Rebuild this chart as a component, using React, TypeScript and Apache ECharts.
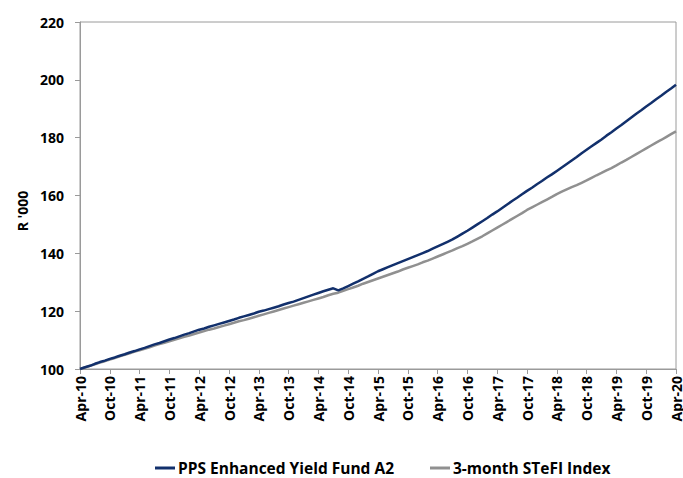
import React, { useEffect, useRef } from "react";
import * as echarts from "echarts";

const MONTHS = ["Jan", "Feb", "Mar", "Apr", "May", "Jun", "Jul", "Aug", "Sep", "Oct", "Nov", "Dec"];
const START_YEAR = 2010;
const START_MONTH = 3; // April
const COUNT = 121;
const categories: string[] = [];
for (let i = 0; i < COUNT; i++) {
  const m = (START_MONTH + i) % 12;
  const y = START_YEAR + Math.floor((START_MONTH + i) / 12);
  categories.push(MONTHS[m] + "-" + String(y % 100).padStart(2, "0"));
}

const fundName = "PPS Enhanced Yield Fund A2";
const indexName = "3-month STeFI Index";

const fundValues = [
  100.0, 100.6, 101.1, 101.8, 102.4, 102.9, 103.5, 104.0, 104.6, 105.1, 105.7, 106.2,
  106.8, 107.3, 107.9, 108.5, 109.0, 109.6, 110.2, 110.7, 111.3, 111.9, 112.4, 113.0,
  113.6, 114.0, 114.6, 115.1, 115.6, 116.1, 116.6, 117.1, 117.7, 118.2, 118.7, 119.2,
  119.8, 120.2, 120.7, 121.2, 121.7, 122.3, 122.8, 123.3, 123.9, 124.5, 125.1, 125.7,
  126.3, 126.9, 127.4, 127.9, 127.2, 127.9, 128.7, 129.5, 130.3, 131.2, 132.0, 132.9,
  133.8, 134.5, 135.2, 135.9, 136.6, 137.3, 138.0, 138.7, 139.4, 140.1, 140.8, 141.6,
  142.4, 143.2, 144.0, 144.8, 145.8, 146.8, 147.8, 148.9, 150.0, 151.1, 152.2, 153.4,
  154.5, 155.7, 156.9, 158.1, 159.2, 160.4, 161.6, 162.7, 163.9, 165.0, 166.2, 167.3,
  168.5, 169.7, 170.9, 172.1, 173.3, 174.6, 175.8, 177.0, 178.2, 179.4, 180.7, 181.9,
  183.2, 184.4, 185.7, 187.0, 188.3, 189.5, 190.8, 192.0, 193.3, 194.5, 195.8, 197.0,
  198.3,
];

const indexValues = [
  100.0, 100.5, 101.1, 101.6, 102.2, 102.7, 103.3, 103.8, 104.4, 104.9, 105.4, 106.0,
  106.5, 107.0, 107.5, 108.1, 108.6, 109.1, 109.6, 110.1, 110.6, 111.1, 111.6, 112.1,
  112.6, 113.1, 113.6, 114.0, 114.5, 115.0, 115.5, 116.0, 116.5, 116.9, 117.4, 117.9,
  118.4, 118.9, 119.4, 119.9, 120.4, 120.9, 121.4, 121.9, 122.4, 122.9, 123.4, 123.9,
  124.4, 124.9, 125.5, 126.0, 126.4, 127.0, 127.6, 128.2, 128.8, 129.5, 130.1, 130.7,
  131.3, 131.9, 132.5, 133.1, 133.7, 134.4, 135.0, 135.6, 136.2, 136.9, 137.5, 138.2,
  138.9, 139.6, 140.3, 141.0, 141.8, 142.5, 143.3, 144.1, 145.0, 145.9, 146.9, 147.9,
  148.9, 149.9, 150.9, 151.9, 152.9, 153.9, 155.0, 155.9, 156.8, 157.7, 158.6, 159.5,
  160.5, 161.3, 162.1, 162.9, 163.6, 164.4, 165.2, 166.1, 167.0, 167.8, 168.7, 169.5,
  170.4, 171.4, 172.3, 173.3, 174.3, 175.3, 176.3, 177.3, 178.3, 179.2, 180.2, 181.2,
  182.2,
];

const yMin = 100;
const yMax = 220;
const yStep = 20;

const FONT = "'Open Sans', 'Noto Sans', sans-serif";

export default function App() {
  const ref = useRef<HTMLDivElement>(null);
  useEffect(() => {
    if (!ref.current) return;
    const chart = echarts.init(ref.current, null, { renderer: "svg" });
    chart.setOption({
      animation: false,
      backgroundColor: "#ffffff",
      grid: {
        left: 80,
        right: 6,
        top: 22,
        bottom: 109,
        show: true,
        borderColor: "#9a9a9a",
        borderWidth: 1,
      },
      legend: {
        top: 455,
        left: 150,
        itemWidth: 20,
        itemHeight: 3,
        itemGap: 36,
        icon: "rect",
        textStyle: { fontFamily: FONT, fontSize: 15.5, fontWeight: "bold", color: "#000", padding: [0, 0, 0, -2] },
        data: [fundName, indexName],
      },
      graphic: [
        {
          type: "text",
          x: 22,
          y: 211,
          rotation: Math.PI / 2,
          style: {
            text: "R '000",
            fontFamily: FONT,
            fontSize: 14,
            fontWeight: "bold",
            fill: "#000",
            textAlign: "center",
            textVerticalAlign: "middle",
          },
        },
      ],
      xAxis: {
        type: "category",
        data: categories,
        boundaryGap: false,
        axisLine: { lineStyle: { color: "#9a9a9a", width: 1 } },
        axisTick: { show: true, interval: 5, length: 5, lineStyle: { color: "#9a9a9a" } },
        axisLabel: {
          interval: 5,
          rotate: 90,
          margin: 7,
          fontFamily: FONT,
          fontSize: 14,
          fontWeight: "bold",
          color: "#000",
        },
        splitLine: { show: false },
      },
      yAxis: {
        type: "value",
        min: yMin,
        max: yMax,
        interval: yStep,
        axisLine: { show: true, lineStyle: { color: "#9a9a9a", width: 1 } },
        axisTick: { show: true, length: 5, lineStyle: { color: "#9a9a9a" } },
        axisLabel: {
          margin: 16,
          fontFamily: FONT,
          fontSize: 14,
          fontWeight: "bold",
          color: "#000",
        },
        splitLine: { show: false },
      },
      series: [
        {
          name: fundName,
          type: "line",
          data: fundValues,
          showSymbol: false,
          symbol: "none",
          lineStyle: { color: "#12306c", width: 2.5 },
          itemStyle: { color: "#12306c" },
          z: 3,
        },
        {
          name: indexName,
          type: "line",
          data: indexValues,
          showSymbol: false,
          symbol: "none",
          lineStyle: { color: "#909090", width: 2.5 },
          itemStyle: { color: "#909090" },
          z: 2,
        },
      ],
    });
    return () => chart.dispose();
  }, []);
  return (
    <div
      ref={ref}
      style={{ position: "absolute", left: 0, top: 0, width: 683, height: 478 }}
    />
  );
}
